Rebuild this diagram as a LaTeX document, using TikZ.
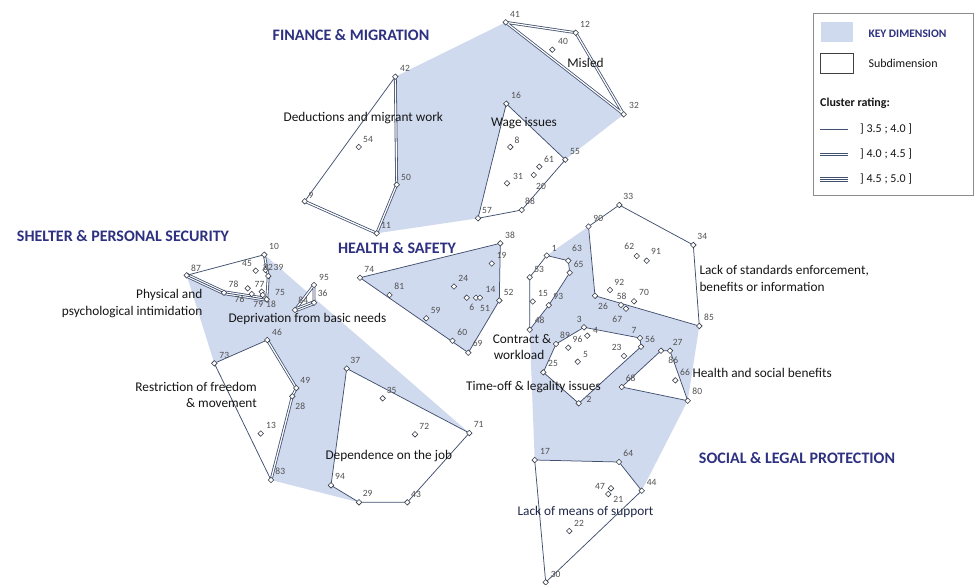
\documentclass[tikz,border=0pt]{standalone}
\usepackage{fontspec}
\setmainfont{Carlito}
\usetikzlibrary{shapes.geometric}
\definecolor{keyblue}{RGB}{208,218,239}
\definecolor{lc}{RGB}{66,80,112}
\definecolor{navy}{RGB}{46,48,128}
\definecolor{numc}{RGB}{80,80,80}
\definecolor{mkc}{RGB}{55,60,72}
\definecolor{txt}{RGB}{22,22,22}
\definecolor{boxc}{RGB}{140,140,140}
\begin{document}
\begin{tikzpicture}[x=1pt,y=-1pt,
  keyfill/.style={fill=keyblue},
  subfill/.style={fill=white},
  sgl/.style={draw=lc,line width=0.75pt,line join=round},
  dbl/.style={draw=lc,double=white,line width=0.8pt,double distance=1.2pt,line join=round},
  tri/.style={draw=lc,line width=4.6pt,line join=round,postaction={draw=white,line width=3pt},postaction={draw=lc,line width=0.8pt}},
  mk/.style={diamond,draw=mkc,fill=white,line width=0.6pt,inner sep=0pt,minimum width=5.8pt,minimum height=5.8pt},
  num/.style={font=\fontsize{9.5}{10}\selectfont,text=numc,inner sep=0pt},
  sub/.style={font=\fontsize{13.3}{16}\selectfont,text=txt,inner sep=0pt},
  keyt/.style={font=\bfseries\fontsize{16}{19}\selectfont,text=navy,inner sep=0pt},
  leg/.style={font=\fontsize{12}{14}\selectfont,text=txt,inner sep=0pt,anchor=west}
]
\useasboundingbox (0,0) rectangle (975,584);
\fill[white] (0,0) rectangle (975,584);

% ---------- points ----------
% Finance & migration
\coordinate (p41) at (505.7,22.3);
\coordinate (p12) at (575.7,32.7);
\coordinate (p40) at (552.3,49.7);
\coordinate (p32) at (623.7,114.3);
\coordinate (p42) at (395.3,76.7);
\coordinate (p16) at (506.3,103.7);
\coordinate (p54) at (358.7,147);
\coordinate (p8) at (510.3,147);
\coordinate (p61) at (539.3,166.7);
\coordinate (p55) at (565.3,159.7);
\coordinate (p31) at (507,183.3);
\coordinate (p20) at (533.7,175);
\coordinate (p50) at (396.7,184.7);
\coordinate (p9) at (304.7,201.3);
\coordinate (p88) at (521.7,210);
\coordinate (p57) at (478,218.3);
\coordinate (p11) at (376.7,233.3);
% Shelter & personal security
\coordinate (p10) at (264.3,254.7);
\coordinate (p87) at (186.7,275.3);
\coordinate (p45) at (255.7,270.7);
\coordinate (p82) at (265.5,270);
\coordinate (p39) at (268.3,276);
\coordinate (p78) at (224,292.7);
\coordinate (p77) at (261.7,291.7);
\coordinate (p76) at (247.7,288.3);
\coordinate (p79) at (251.7,294);
\coordinate (p18) at (262.7,295);
\coordinate (p75) at (266.7,299.3);
\coordinate (p95) at (314,285);
\coordinate (p36) at (314,302.7);
\coordinate (p84) at (295,310);
\coordinate (p46) at (267.3,340);
\coordinate (p73) at (214.3,363.3);
\coordinate (p49) at (296.3,388);
\coordinate (p28) at (292.3,396.3);
\coordinate (p13) at (260.7,433.5);
\coordinate (p83) at (271,480);
\coordinate (p37) at (346.7,368.5);
\coordinate (p35) at (382.7,398.3);
\coordinate (p72) at (415,434.3);
\coordinate (p71) at (469.3,433);
\coordinate (p94) at (331,485.3);
\coordinate (p29) at (359,502.3);
\coordinate (p43) at (407.3,502.3);
% Health & safety
\coordinate (p38) at (500.3,243.3);
\coordinate (p19) at (491.7,263.5);
\coordinate (p74) at (360,277.7);
\coordinate (p24) at (454,286.5);
\coordinate (p81) at (389.5,295);
\coordinate (p6) at (466.7,297.7);
\coordinate (p51) at (476,297.7);
\coordinate (p14) at (480,297.7);
\coordinate (p52) at (499.3,300.5);
\coordinate (p59) at (426.2,318.3);
\coordinate (p60) at (452.5,340.7);
\coordinate (p69) at (468.3,352.7);
% Social & legal protection
\coordinate (p33) at (619.3,205);
\coordinate (p90) at (588.5,226.5);
\coordinate (p34) at (693.3,245);
\coordinate (p62) at (636.7,256);
\coordinate (p91) at (646.7,260.7);
\coordinate (p1) at (546.7,255.5);
\coordinate (p63) at (568.3,260.7);
\coordinate (p65) at (569.7,272.7);
\coordinate (p53) at (529.7,277.3);
\coordinate (p92) at (610,290);
\coordinate (p70) at (634,301.3);
\coordinate (p58) at (621,305);
\coordinate (p67) at (626,308.7);
\coordinate (p26) at (595,295.8);
\coordinate (p15) at (532.7,301.5);
\coordinate (p93) at (548.8,305.2);
\coordinate (p48) at (529.7,329.7);
\coordinate (p85) at (699.3,326);
\coordinate (p3) at (584,327.3);
\coordinate (p4) at (587.3,335.7);
\coordinate (p96) at (568.3,347.7);
\coordinate (p89) at (556,344);
\coordinate (p7) at (640,338);
\coordinate (p56) at (641,346.7);
\coordinate (p86) at (661,350.7);
\coordinate (p27) at (670,350.7);
\coordinate (p23) at (624,356);
\coordinate (p5) at (577.7,361.7);
\coordinate (p25) at (543.3,372.3);
\coordinate (p66) at (675.3,380.3);
\coordinate (p68) at (621.7,387);
\coordinate (p80) at (687.7,400.7);
\coordinate (p2) at (578.7,403.3);
\coordinate (p17) at (534.7,460);
\coordinate (p64) at (619,462);
\coordinate (p44) at (641.7,490.7);
\coordinate (p47) at (611,488.3);
\coordinate (p21) at (608.3,494);
\coordinate (p22) at (569.3,531);
\coordinate (p30) at (545.7,582.3);

% ---------- key dimension shading ----------
\fill[keyfill] (p42) -- (p41) -- (p32) -- (p55) -- (p88) -- (p57) -- (p11) -- (p50) -- cycle;
\fill[keyfill] (p87) -- (p10) -- (p71) -- (p29) -- (p83) -- (p73) -- cycle;
\fill[keyfill] (p90) -- (p85) -- (p80) -- (p44) -- (p64) -- (p17) -- (p48) -- (p1) -- cycle;
\fill[keyfill] (p74) -- (p38) -- (p52) -- (p69) -- cycle;

% ---------- subdimension fills ----------
\fill[subfill] (p41) -- (p12) -- (p32) -- cycle;
\fill[subfill] (p42) -- (p50) -- (p11) -- (p9) -- cycle;
\fill[subfill] (p16) -- (p55) -- (p88) -- (p57) -- cycle;
\fill[subfill] (p87) -- (p10) -- (p39) -- (p75) -- (p78) -- cycle;
\fill[subfill] (p95) -- (p36) -- (p84) -- cycle;
\fill[subfill] (p73) -- (p46) -- (p49) -- (p28) -- (p83) -- cycle;
\fill[subfill] (p37) -- (p71) -- (p43) -- (p29) -- (p94) -- cycle;
\fill[subfill] (p90) -- (p33) -- (p34) -- (p85) -- (p26) -- cycle;
\fill[subfill] (p1) -- (p63) -- (p65) -- (p93) -- (p48) -- (p53) -- cycle;
\fill[subfill] (p3) -- (p7) -- (p56) -- (p2) -- (p25) -- (p89) -- cycle;
\fill[subfill] (p86) -- (p27) -- (p80) -- (p68) -- cycle;
\fill[subfill] (p17) -- (p64) -- (p44) -- (p30) -- cycle;

% ---------- outlines ----------
\draw[dbl] (p41) -- (p12) -- (p32) -- cycle;
\draw[dbl] (p42) -- (p50) -- (p11) -- (p9);
\draw[sgl] (p9) -- (p42);
\draw[sgl] (p16) -- (p55) -- (p88) -- (p57) -- cycle;
\draw[tri] (p75) -- (p78) -- (p87);
\draw[sgl] (p87) -- (p10);
\draw[dbl] (p10) -- (p39) -- (p75);
\draw[dbl] (p84) -- (p95) -- (p36);
\draw[tri] (p36) -- (p84);
\draw[sgl] (p83) -- (p73) -- (p46);
\draw[dbl] (p46) -- (p49) -- (p28) -- (p83);
\draw[sgl] (p37) -- (p71) -- (p43) -- (p29) -- (p94) -- cycle;
\draw[sgl] (p74) -- (p38) -- (p52) -- (p69) -- cycle;
\draw[sgl] (p90) -- (p33) -- (p34) -- (p85) -- (p26) -- cycle;
\draw[sgl] (p1) -- (p63) -- (p65) -- (p93) -- (p48) -- (p53) -- cycle;
\draw[sgl] (p3) -- (p7) -- (p56) -- (p2) -- (p25) -- (p89) -- cycle;
\draw[sgl] (p86) -- (p27) -- (p80) -- (p68) -- cycle;
\draw[sgl] (p17) -- (p64) -- (p44) -- (p30) -- cycle;

% ---------- markers ----------
\foreach \n in {41,12,40,32,42,16,54,8,61,55,31,20,50,9,88,57,11,
  10,87,45,82,39,78,77,76,79,18,75,95,36,84,46,73,49,28,13,83,37,35,72,71,94,29,43,
  38,19,74,24,81,6,51,14,52,59,60,69,
  33,90,34,62,91,1,63,65,53,92,70,58,67,26,15,93,48,85,3,4,96,89,7,56,86,27,23,5,25,66,68,80,2,17,64,44,47,21,22,30}
  {\node[mk] (m\n) at (p\n) {};}

% ---------- number labels ----------
\node[num] (l41) at (515,14) {41};
\node[num] (l12) at (585,24.5) {12};
\node[num] (l40) at (563,41) {40};
\node[num] (l32) at (634,105) {32};
\node[num] (l42) at (405,68.5) {42};
\node[num] (l16) at (516,95) {16};
\node[num] (l54) at (368,139) {54};
\node[num] (l8) at (517,140) {8};
\node[num] (l61) at (549,159) {61};
\node[num] (l55) at (575,151) {55};
\node[num] (l31) at (518,176) {31};
\node[num] (l20) at (541,186) {20};
\node[num] (l50) at (406,177) {50};
\node[num] (l9) at (311,195) {9};
\node[num] (l88) at (530,201) {88};
\node[num] (l57) at (487,210) {57};
\node[num] (l11) at (386,225) {11};
\node[num] (l10) at (274,246) {10};
\node[num] (l87) at (196,268) {87};
\node[num] (l45) at (247,263.3) {45};
\node[num] (l82) at (268,267) {82};
\node[num] (l39) at (278.5,267) {39};
\node[num] (l78) at (233.5,284) {78};
\node[num] (l77) at (259.5,284) {77};
\node[num] (l76) at (239.5,299.5) {76};
\node[num] (l79) at (258.3,304.3) {79};
\node[num] (l18) at (271,304.3) {18};
\node[num] (l75) at (280,292.7) {75};
\node[num] (l95) at (324,277) {95};
\node[num] (l36) at (322.7,293.5) {36};
\node[num] (l84) at (303.3,300.7) {84};
\node[num] (l46) at (277,332.5) {46};
\node[num] (l73) at (224.3,355) {73};
\node[num] (l49) at (305.3,380) {49};
\node[num] (l28) at (300.3,406.7) {28};
\node[num] (l13) at (271,425) {13};
\node[num] (l83) at (280.3,471) {83};
\node[num] (l37) at (355.3,360) {37};
\node[num] (l35) at (391.7,390) {35};
\node[num] (l72) at (424.3,426) {72};
\node[num] (l71) at (478.7,424.7) {71};
\node[num] (l94) at (340,476.7) {94};
\node[num] (l29) at (367.7,493.3) {29};
\node[num] (l43) at (416,494) {43};
\node[num] (l38) at (510,235.7) {38};
\node[num] (l19) at (501.7,255.7) {19};
\node[num] (l74) at (369.3,269) {74};
\node[num] (l24) at (463.3,278) {24};
\node[num] (l81) at (399.3,286.7) {81};
\node[num] (l6) at (471.7,307.5) {6};
\node[num] (l51) at (485,308.3) {51};
\node[num] (l14) at (490.5,289.3) {14};
\node[num] (l52) at (508.7,292.7) {52};
\node[num] (l59) at (435.7,310) {59};
\node[num] (l60) at (462.3,332.3) {60};
\node[num] (l69) at (477.7,343.7) {69};
\node[num] (l33) at (628.3,196) {33};
\node[num] (l90) at (598.3,218.3) {90};
\node[num] (l34) at (702.3,236.7) {34};
\node[num] (l62) at (629.3,246.7) {62};
\node[num] (l91) at (656,251.7) {91};
\node[num] (l1) at (554.3,248.3) {1};
\node[num] (l63) at (577,248.3) {63};
\node[num] (l65) at (578.7,264) {65};
\node[num] (l53) at (539.2,269.3) {53};
\node[num] (l92) at (619.3,282.7) {92};
\node[num] (l70) at (644,292.7) {70};
\node[num] (l58) at (621.7,296) {58};
\node[num] (l67) at (617.3,319.3) {67};
\node[num] (l26) at (603,306.7) {26};
\node[num] (l15) at (543,293) {15};
\node[num] (l93) at (558.3,296.3) {93};
\node[num] (l48) at (539.7,320.3) {48};
\node[num] (l85) at (709,317.3) {85};
\node[num] (l3) at (579.3,319) {3};
\node[num] (l4) at (595.5,330) {4};
\node[num] (l96) at (577.5,339.3) {96};
\node[num] (l89) at (565,335.5) {89};
\node[num] (l7) at (634,330) {7};
\node[num] (l56) at (650,339) {56};
\node[num] (l86) at (673.3,360) {86};
\node[num] (l27) at (677.7,342.3) {27};
\node[num] (l23) at (616.7,347.7) {23};
\node[num] (l5) at (585.5,354.5) {5};
\node[num] (l25) at (553,363.3) {25};
\node[num] (l66) at (685,372.3) {66};
\node[num] (l68) at (630.7,378.3) {68};
\node[num] (l80) at (697.3,391.7) {80};
\node[num] (l2) at (589,399.5) {2};
\node[num] (l17) at (545,451.7) {17};
\node[num] (l64) at (628.3,453.3) {64};
\node[num] (l44) at (651.7,482) {44};
\node[num] (l47) at (600,486) {47};
\node[num] (l21) at (618.3,499) {21};
\node[num] (l22) at (579,523.3) {22};
\node[num] (l30) at (555.7,574) {30};

% ---------- key dimension titles ----------
\node[keyt] (tfin) at (351,35) {FINANCE \& MIGRATION};
\node[keyt] (tshe) at (123,236) {SHELTER \& PERSONAL SECURITY};
\node[keyt] (thea) at (397,248) {HEALTH \& SAFETY};
\node[keyt] (tsoc) at (797,458.3) {SOCIAL \& LEGAL PROTECTION};

% ---------- subdimension labels ----------
\node[sub] (smis) at (585.5,63) {Misled};
\node[sub] (sded) at (363.3,118.3) {Deductions and migrant work};
\node[sub] (swag) at (524,122.7) {Wage issues};
\node[sub,anchor=east] (sphy1) at (202.5,295) {Physical and};
\node[sub,anchor=east] (sphy2) at (202.5,311.7) {psychological intimidation};
\node[sub,anchor=west] (sdep) at (228.3,319.3) {Deprivation from basic needs};
\node[sub,anchor=east] (sres1) at (257,386.7) {Restriction of freedom};
\node[sub,anchor=east] (sres2) at (257,402.7) {\& movement};
\node[sub] (sjob) at (388.8,455.7) {Dependence on the job};
\node[sub] (scon1) at (522,339) {Contract \&};
\node[sub] (scon2) at (519,355) {workload};
\node[sub,anchor=east] (stim) at (601,387.5) {Time-off \& legality issues};
\node[sub,anchor=west] (slac1) at (699.3,270.7) {Lack of standards enforcement,};
\node[sub,anchor=west] (slac2) at (699.3,286.7) {benefits or information};
\node[sub,anchor=west] (shsb) at (692.3,373.3) {Health and social benefits};
\node[sub,text={rgb,255:red,30;green,40;blue,72}] (smea) at (585.5,511.7) {Lack of means of support};

% ---------- legend ----------
\draw[boxc,line width=0.7pt] (813,13.3) rectangle (973.5,195.5);
\fill[keyblue] (820.7,22.3) rectangle (853.3,41.7);
\draw[black!75,line width=0.6pt] (820.7,53.3) rectangle (853.3,73.3);
\node[leg,font=\bfseries\fontsize{11.5}{14}\selectfont,text=navy] (lgk) at (868.3,33.3) {KEY DIMENSION};
\node[leg] (lgs) at (868.3,63.3) {Subdimension};
\node[leg,font=\bfseries\fontsize{12}{14}\selectfont] (lgc) at (820,103.3) {Cluster rating:};
\coordinate (qa1) at (820,129.5); \coordinate (qa2) at (848.3,129.5);
\coordinate (qb1) at (820,154.5); \coordinate (qb2) at (848.3,154.5);
\coordinate (qc1) at (820,179.5); \coordinate (qc2) at (848.3,179.5);
\draw[sgl] (qa1) -- (qa2);
\draw[dbl] (qb1) -- (qb2);
\draw[tri] (qc1) -- (qc2);
\node[leg] (lga) at (860,129) {] 3.5 ; 4.0 ]};
\node[leg] (lgb) at (860,154) {] 4.0 ; 4.5 ]};
\node[leg] (lgc2) at (860,179) {] 4.5 ; 5.0 ]};
\end{tikzpicture}
\end{document}
